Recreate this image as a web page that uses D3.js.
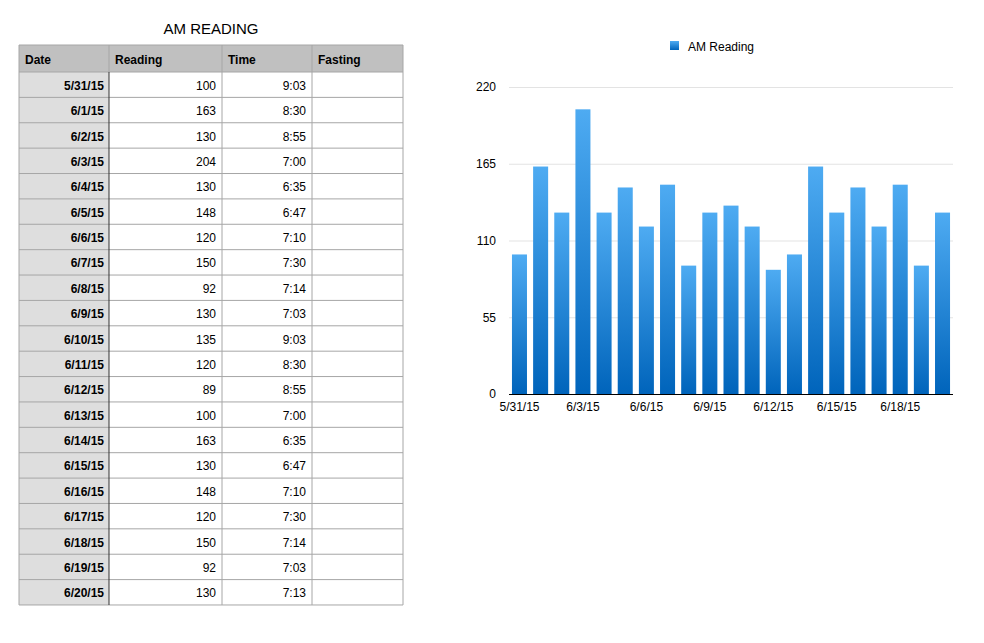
<!DOCTYPE html>
<html>
<head>
<meta charset="utf-8">
<script src="https://cdn.jsdelivr.net/npm/d3@7"></script>
<style>
  body { margin: 0; background: #fff; }
  svg { display: block; font-family: "Liberation Sans", Arial, sans-serif; }
</style>
</head>
<body>
<script>
var dates = ["5/31/15", "6/1/15", "6/2/15", "6/3/15", "6/4/15", "6/5/15", "6/6/15",
    "6/7/15", "6/8/15", "6/9/15", "6/10/15", "6/11/15", "6/12/15", "6/13/15",
    "6/14/15", "6/15/15", "6/16/15", "6/17/15", "6/18/15", "6/19/15", "6/20/15"];
var readings = [100, 163, 130, 204, 130, 148, 120, 150, 92, 130, 135, 120, 89, 100,
    163, 130, 148, 120, 150, 92, 130];
var times = ["9:03", "8:30", "8:55", "7:00", "6:35", "6:47", "7:10", "7:30", "7:14",
    "7:03", "9:03", "8:30", "8:55", "7:00", "6:35", "6:47", "7:10", "7:30", "7:14",
    "7:03", "7:13"];
var headers = ["Date", "Reading", "Time", "Fasting"];
var yTicks = [0, 55, 110, 165, 220];
var xLabelDates = ["5/31/15", "6/3/15", "6/6/15", "6/9/15", "6/12/15", "6/15/15", "6/18/15"];

var svg = d3.select("body").append("svg")
    .attr("width", 984)
    .attr("height", 643);

// ---------- table ----------
var colX = [19, 109, 222, 312, 403];
var tableTop = 45, headH = 27, rowH = 25.38;
var bodyTop = tableTop + headH;

svg.append("text")
    .attr("x", 211).attr("y", 34)
    .attr("text-anchor", "middle")
    .style("font-size", "15px")
    .text("AM READING");

var table = svg.append("g");

// header background
table.append("rect")
    .attr("x", colX[0]).attr("y", tableTop)
    .attr("width", colX[4] - colX[0]).attr("height", headH)
    .attr("fill", "#c0c0c0");

// date column background
table.append("rect")
    .attr("x", colX[0]).attr("y", bodyTop)
    .attr("width", colX[1] - colX[0]).attr("height", rowH * dates.length)
    .attr("fill", "#dedede");

// header text
table.selectAll(".hdr")
    .data(headers)
    .enter()
    .append("text")
    .attr("class", "hdr")
    .attr("x", function(d, i) { return colX[i] + 6; })
    .attr("y", tableTop + 18.5)
    .style("font-size", "12px")
    .style("font-weight", "bold")
    .text(function(d) { return d; });

var rows = table.selectAll(".row")
    .data(dates)
    .enter()
    .append("g")
    .attr("class", "row")
    .attr("transform", function(d, i) {
        return "translate(0," + (bodyTop + rowH * i) + ")";
    });

rows.append("text")
    .attr("x", colX[1] - 5).attr("y", 17.8)
    .attr("text-anchor", "end")
    .style("font-size", "12px")
    .style("font-weight", "bold")
    .text(function(d) { return d; });

rows.append("text")
    .attr("x", colX[2] - 6).attr("y", 17.8)
    .attr("text-anchor", "end")
    .style("font-size", "12px")
    .text(function(d, i) { return readings[i]; });

rows.append("text")
    .attr("x", colX[3] - 6).attr("y", 17.8)
    .attr("text-anchor", "end")
    .style("font-size", "12px")
    .text(function(d, i) { return times[i]; });

// grid lines
var tableBottom = bodyTop + rowH * dates.length;
table.append("line")
    .attr("x1", colX[0]).attr("x2", colX[4])
    .attr("y1", tableTop).attr("y2", tableTop)
    .attr("stroke", "#a6a6a6");
for (var r = 0; r <= dates.length; r++) {
    table.append("line")
        .attr("x1", colX[0]).attr("x2", colX[4])
        .attr("y1", bodyTop + r * rowH).attr("y2", bodyTop + r * rowH)
        .attr("stroke", "#a6a6a6").attr("stroke-width", 1);
}
colX.forEach(function(x, i) {
    table.append("line")
        .attr("x1", x).attr("x2", x)
        .attr("y1", i == 1 ? bodyTop : tableTop).attr("y2", tableBottom)
        .attr("stroke", i == 1 ? "#333" : "#a6a6a6").attr("stroke-width", 1);
});
// header part of the date column divider
table.append("line")
    .attr("x1", colX[1]).attr("x2", colX[1])
    .attr("y1", tableTop).attr("y2", bodyTop)
    .attr("stroke", "#a6a6a6");

// ---------- bar chart ----------
var plot = { left: 509, right: 953, top: 87, bottom: 394 };

var x = d3.scaleBand()
    .domain(dates)
    .range([plot.left, plot.right])
    .paddingInner(0.29)
    .paddingOuter(0.14);

var y = d3.scaleLinear()
    .domain([0, 220])
    .range([plot.bottom, plot.top]);

var defs = svg.append("defs");
var grad = defs.append("linearGradient")
    .attr("id", "barGrad")
    .attr("x1", 0).attr("y1", 0).attr("x2", 0).attr("y2", 1);
grad.append("stop").attr("offset", "0%").attr("stop-color", "#4eabf2");
grad.append("stop").attr("offset", "100%").attr("stop-color", "#0064bb");

// gridlines
svg.append("g")
    .selectAll("line")
    .data(yTicks.slice(1))
    .enter()
    .append("line")
    .attr("x1", plot.left).attr("x2", plot.right)
    .attr("y1", function(d) { return y(d) + 0.5; })
    .attr("y2", function(d) { return y(d) + 0.5; })
    .attr("stroke", "#e3e3e3");

// y axis labels
var yAxis = svg.append("g")
    .attr("transform", "translate(" + (plot.left - 13) + ",0)")
    .call(d3.axisLeft(y).tickValues(yTicks).tickSize(0).tickPadding(0));
yAxis.select(".domain").remove();
yAxis.selectAll("text")
    .style("font-family", "'Liberation Sans', Arial, sans-serif")
    .style("font-size", "12px")
    .attr("fill", "#000");

// bars
svg.append("g")
    .selectAll("rect")
    .data(readings)
    .enter()
    .append("rect")
    .attr("x", function(d, i) { return x(dates[i]); })
    .attr("y", function(d) { return y(d); })
    .attr("width", x.bandwidth())
    .attr("height", function(d) { return y(0) - y(d); })
    .attr("fill", "url(#barGrad)");

// x axis
var xAxis = svg.append("g")
    .attr("transform", "translate(0," + plot.bottom + ")")
    .call(d3.axisBottom(x).tickValues(xLabelDates).tickSize(0).tickPadding(8));
xAxis.select(".domain").remove();
xAxis.selectAll("text")
    .style("font-family", "'Liberation Sans', Arial, sans-serif")
    .style("font-size", "12px")
    .attr("fill", "#000");

svg.append("line")
    .attr("x1", plot.left).attr("x2", plot.right)
    .attr("y1", plot.bottom + 0.5).attr("y2", plot.bottom + 0.5)
    .attr("stroke", "#000").attr("stroke-width", 1);

// legend
svg.append("rect")
    .attr("x", 670).attr("y", 41)
    .attr("width", 9).attr("height", 9)
    .attr("fill", "url(#barGrad)");
svg.append("text")
    .attr("x", 688).attr("y", 51)
    .style("font-size", "12px")
    .text("AM Reading");
</script>
</body>
</html>
